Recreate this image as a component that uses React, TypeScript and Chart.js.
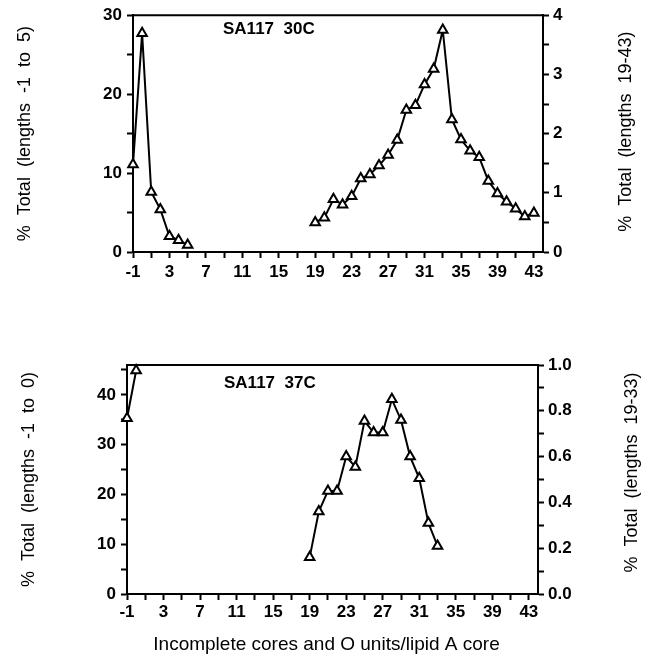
import React, { useEffect, useRef } from "react";
import { Chart, registerables } from "chart.js";

Chart.register(...registerables);

// ---------- data ----------
const topShortLengths = [-1, 0, 1, 2, 3, 4, 5];
const topShortValues = [11.1, 27.7, 7.6, 5.4, 2.0, 1.5, 0.9];
const topLongLengths = [19, 20, 21, 22, 23, 24, 25, 26, 27, 28, 29, 30, 31, 32, 33, 34, 35, 36, 37, 38, 39, 40, 41, 42, 43];
const topLongValues = [0.5, 0.58, 0.89, 0.8, 0.94, 1.24, 1.31, 1.46, 1.64, 1.89, 2.4, 2.48, 2.83, 3.09, 3.75, 2.24, 1.9, 1.71, 1.6, 1.2, 0.99, 0.85, 0.73, 0.6, 0.66];

const bottomShortLengths = [-1, 0];
const bottomShortValues = [35.3, 44.9];
const bottomLongLengths = [19, 20, 21, 22, 23, 24, 25, 26, 27, 28, 29, 30, 31, 32, 33];
const bottomLongValues = [0.16, 0.36, 0.45, 0.45, 0.6, 0.555, 0.755, 0.705, 0.705, 0.85, 0.76, 0.6, 0.505, 0.31, 0.21];

const xTickValues = [-1, 1, 3, 5, 7, 9, 11, 13, 15, 17, 19, 21, 23, 25, 27, 29, 31, 33, 35, 37, 39, 41, 43];
const xLabelValues = [-1, 3, 7, 11, 15, 19, 23, 27, 31, 35, 39, 43];

const topLeftTicks = [0, 5, 10, 15, 20, 25, 30];
const topLeftLabels = [0, 10, 20, 30];
const topRightTicks = [0, 0.5, 1, 1.5, 2, 2.5, 3, 3.5, 4];
const topRightLabels = [0, 1, 2, 3, 4];

const bottomLeftTicks = [0, 5, 10, 15, 20, 25, 30, 35, 40, 45];
const bottomLeftLabels = [0, 10, 20, 30, 40];
const bottomRightTicks = [0, 0.1, 0.2, 0.3, 0.4, 0.5, 0.6, 0.7, 0.8, 0.9, 1.0];
const bottomRightLabels = [0, 0.2, 0.4, 0.6, 0.8, 1.0];

const FONT = "'Liberation Sans', Arial, Helvetica, sans-serif";

const near = (list: number[], v: number) => list.some((l) => Math.abs(l - v) < 1e-6);

const framePlugin = {
  id: "frame",
  afterDraw(chart: any, _args: any, opts: any) {
    const { ctx, chartArea: a } = chart;
    ctx.save();
    // top border of the plot box
    ctx.strokeStyle = "#000";
    ctx.lineWidth = 2;
    ctx.beginPath();
    ctx.moveTo(a.left - 1, a.top);
    ctx.lineTo(a.right + 1, a.top);
    ctx.stroke();
    // panel label inside plot
    ctx.fillStyle = "#000";
    ctx.font = `bold ${opts.size}px ${FONT}`;
    ctx.textAlign = "left";
    ctx.textBaseline = "middle";
    ctx.fillText(opts.text, a.left + opts.dx, a.top + opts.dy);
    // right axis title, reading bottom-to-top
    const y2 = chart.scales.y2;
    ctx.font = `normal ${opts.axisTitleSize}px ${FONT}`;
    ctx.textAlign = "center";
    ctx.save();
    ctx.translate(opts.rightTitleX, (y2.top + y2.bottom) / 2 + opts.rightTitleDy);
    ctx.rotate(-Math.PI / 2);
    ctx.fillText(opts.rightTitle, 0, 0);
    ctx.restore();
    // x-axis title
    if (opts.xTitle) {
      ctx.font = `normal ${opts.xTitleSize}px ${FONT}`;
      ctx.fillText(opts.xTitle, (a.left + a.right) / 2 + opts.xTitleDx, chart.height - opts.xTitleFromBottom);
    }
    ctx.restore();
  },
};

function makeConfig(p: any): any {
  const lineDs = (xs: number[], ys: number[], axis: string) => ({
    data: xs.map((x, i) => ({ x, y: ys[i] })),
    yAxisID: axis,
    borderColor: "#000",
    borderWidth: 2,
    pointStyle: "triangle",
    pointRadius: 5.5,
    pointBackgroundColor: "#fff",
    pointBorderColor: "#000",
    pointBorderWidth: 2,
    clip: false,
    tension: 0,
  });
  const tickFont = { family: FONT, size: 17, weight: "bold" as const };
  const titleFont = { family: FONT, size: 18, weight: "normal" as const };
  const grid = {
    display: true,
    drawOnChartArea: false,
    drawTicks: true,
    tickLength: 6,
    tickWidth: 2,
    tickColor: "#000",
  };
  const border = { display: true, color: "#000", width: 2 };
  return {
    type: "line",
    data: {
      datasets: [
        lineDs(p.shortX, p.shortY, "y"),
        lineDs(p.longX, p.longY, "y2"),
      ],
    },
    options: {
      animation: false,
      responsive: false,
      events: [],
      layout: { padding: { top: p.padTop, left: 0, right: 0, bottom: 0 } },
      plugins: {
        legend: { display: false },
        tooltip: { enabled: false },
        frame: {
          text: p.title,
          dx: p.titleDx,
          dy: p.titleDy,
          size: 17,
          rightTitle: p.rightTitle,
          rightTitleX: p.rightTitleX,
          rightTitleDy: p.rightTitleDy,
          axisTitleSize: 18,
          xTitle: p.xTitle,
          xTitleSize: 19,
          xTitleDx: -6,
          xTitleFromBottom: 10,
        },
      },
      scales: {
        x: {
          type: "linear",
          position: "bottom",
          min: -1,
          max: 44,
          afterBuildTicks: (s: any) => {
            s.ticks = xTickValues.map((v) => ({ value: v }));
          },
          afterFit: (s: any) => {
            s.height = p.xHeight;
          },
          ticks: {
            autoSkip: false,
            maxRotation: 0,
            minRotation: 0,
            padding: p.xPad,
            color: "#000",
            font: tickFont,
            callback: (v: number) => (near(xLabelValues, v) ? String(v) : ""),
          },
          grid,
          border,
        },
        y: {
          type: "linear",
          position: "left",
          min: 0,
          max: p.leftMax,
          afterBuildTicks: (s: any) => {
            s.ticks = p.leftTicks.map((v: number) => ({ value: v }));
          },
          afterFit: (s: any) => {
            s.width = p.leftWidth;
          },
          ticks: {
            autoSkip: false,
            padding: 5,
            color: "#000",
            font: tickFont,
            callback: (v: number) => (near(p.leftLabels, v) ? String(v) : ""),
          },
          grid,
          border,
          title: {
            display: true,
            text: p.leftTitle,
            color: "#000",
            font: titleFont,
            padding: { top: p.leftTitlePad, bottom: 0 },
          },
        },
        y2: {
          type: "linear",
          position: "right",
          min: 0,
          max: p.rightMax,
          afterBuildTicks: (s: any) => {
            s.ticks = p.rightTicks.map((v: number) => ({ value: v }));
          },
          afterFit: (s: any) => {
            s.width = p.rightWidth;
          },
          ticks: {
            autoSkip: false,
            padding: 4,
            color: "#000",
            font: tickFont,
            callback: (v: number) =>
              near(p.rightLabels, v) ? v.toFixed(p.rightDecimals) : "",
          },
          grid,
          border,
        },
      },
    },
    plugins: [framePlugin],
  };
}

function Panel(props: { spec: any; top: number; height: number }) {
  const ref = useRef<HTMLCanvasElement | null>(null);
  useEffect(() => {
    if (!ref.current) return;
    const chart = new Chart(ref.current, makeConfig(props.spec));
    return () => chart.destroy();
  }, []);
  return (
    <canvas
      ref={ref}
      width={648}
      height={props.height}
      style={{ position: "absolute", left: 0, top: props.top, width: 648, height: props.height }}
    />
  );
}

const topSpec = {
  title: "SA117  30C",
  titleDx: 90,
  titleDy: 14,
  shortX: topShortLengths,
  shortY: topShortValues,
  longX: topLongLengths,
  longY: topLongValues,
  leftMax: 30,
  rightMax: 4,
  leftTicks: topLeftTicks,
  leftLabels: topLeftLabels,
  rightTicks: topRightTicks,
  rightLabels: topRightLabels,
  rightDecimals: 0,
  leftTitle: "%  Total  (lengths  -1  to  5)",
  rightTitle: "%  Total  (lengths  19-43)",
  rightTitleX: 626,
  rightTitleDy: -2,
  padTop: 14,
  leftWidth: 133,
  rightWidth: 105,
  xHeight: 48,
  xPad: 4,
  leftTitlePad: 14,
};

const bottomSpec = {
  title: "SA117  37C",
  titleDx: 97,
  titleDy: 18,
  shortX: bottomShortLengths,
  shortY: bottomShortValues,
  longX: bottomLongLengths,
  longY: bottomLongValues,
  leftMax: 46,
  rightMax: 1,
  leftTicks: bottomLeftTicks,
  leftLabels: bottomLeftLabels,
  rightTicks: bottomRightTicks,
  rightLabels: bottomRightLabels,
  rightDecimals: 1,
  leftTitle: "%  Total  (lengths  -1  to  0)",
  rightTitle: "%  Total  (lengths  19-33)",
  rightTitleX: 632,
  rightTitleDy: -7,
  xTitle: "Incomplete cores and O units/lipid A core",
  padTop: 35,
  leftWidth: 127,
  rightWidth: 110,
  xHeight: 61,
  xPad: 2,
  leftTitlePad: 18,
};

export default function App() {
  return (
    <div
      style={{
        position: "absolute",
        left: 0,
        top: 0,
        width: 648,
        height: 655,
        background: "#fff",
        overflow: "hidden",
      }}
    >
      <Panel spec={topSpec} top={0} height={300} />
      <Panel spec={bottomSpec} top={330} height={325} />
    </div>
  );
}
